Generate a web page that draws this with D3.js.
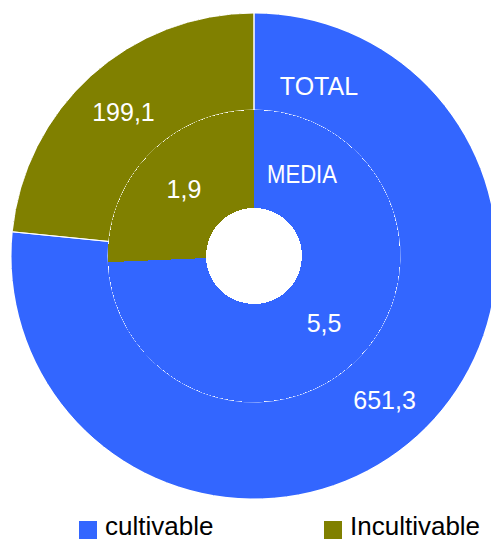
<!DOCTYPE html>
<html>
<head>
<meta charset="utf-8">
<script src="https://cdn.jsdelivr.net/npm/d3@7"></script>
<style>
  html, body { margin: 0; padding: 0; background: #fff; }
  svg { display: block; }
  text { font-family: "Liberation Sans", Arial, sans-serif; }
</style>
</head>
<body>
<svg id="chart" width="491" height="540"></svg>
<script>
// Land categories and the two rings (outer: totals, inner: averages)
const categories = ["cultivable", "Incultivable"];
const colors = ["#3366FF", "#808000"];
const totalValues = [651.3, 199.1];
const mediaValues = [5.5, 1.9];
const totalLabels = ["651,3", "199,1"];
const mediaLabels = ["5,5", "1,9"];
const ringNames = ["TOTAL", "MEDIA"];

const svg = d3.select("#chart");
const cx = 254, cy = 256;
const rHole = 48, rInner = 146, rOuter = 243;

const color = d3.scaleOrdinal().domain(categories).range(colors);
const pie = d3.pie().sort(null).value(d => d.value).startAngle(0).endAngle(2 * Math.PI);

const g = svg.append("g").attr("transform", `translate(${cx},${cy})`);

function ring(values, labels, r0, r1, stroked) {
  const data = categories.map((c, i) => ({ cat: c, value: values[i], label: labels[i] }));
  const arcs = pie(data);
  const arc = d3.arc().innerRadius(r0).outerRadius(r1);
  const grp = g.append("g");
  // slice fills, drawn without anti-aliasing
  grp.selectAll("path.fill").data(arcs).join("path")
    .attr("class", "fill")
    .attr("d", arc)
    .attr("fill", d => color(d.data.cat))
    .attr("shape-rendering", "crispEdges");
  // thin white outlines between slices
  if (stroked) {
    grp.selectAll("path.edge").data(arcs).join("path")
      .attr("class", "edge")
      .attr("d", arc)
      .attr("fill", "none")
      .attr("stroke", "#fff")
      .attr("stroke-width", 1);
  }
  grp.selectAll("text").data(arcs).join("text")
    .attr("transform", d => `translate(${arc.centroid(d)})`)
    .attr("text-anchor", "middle")
    .attr("dy", "0.36em")
    .attr("fill", "#fff")
    .attr("font-size", 25)
    .text(d => d.data.label);
}

ring(totalValues, totalLabels, rInner, rOuter, true);
ring(mediaValues, mediaLabels, rHole, rInner, false);

// Ring names
g.append("text").attr("x", 65).attr("y", -161)
  .attr("text-anchor", "middle").attr("fill", "#fff").attr("font-size", 25)
  .text(ringNames[0]);
g.append("text").attr("x", 48).attr("y", -73)
  .attr("text-anchor", "middle").attr("fill", "#fff").attr("font-size", 25)
  .attr("textLength", 70).attr("lengthAdjust", "spacingAndGlyphs")
  .text(ringNames[1]);

// Legend
const legendX = [79, 324];
const legend = svg.append("g").selectAll("g").data(categories).join("g")
  .attr("transform", (d, i) => `translate(${legendX[i]},521)`);
legend.append("rect")
  .attr("width", 18).attr("height", 18)
  .attr("fill", d => color(d));
legend.append("text")
  .attr("x", 26).attr("y", 13.5)
  .attr("font-size", 26).attr("fill", "#000")
  .text(d => d);
</script>
</body>
</html>
